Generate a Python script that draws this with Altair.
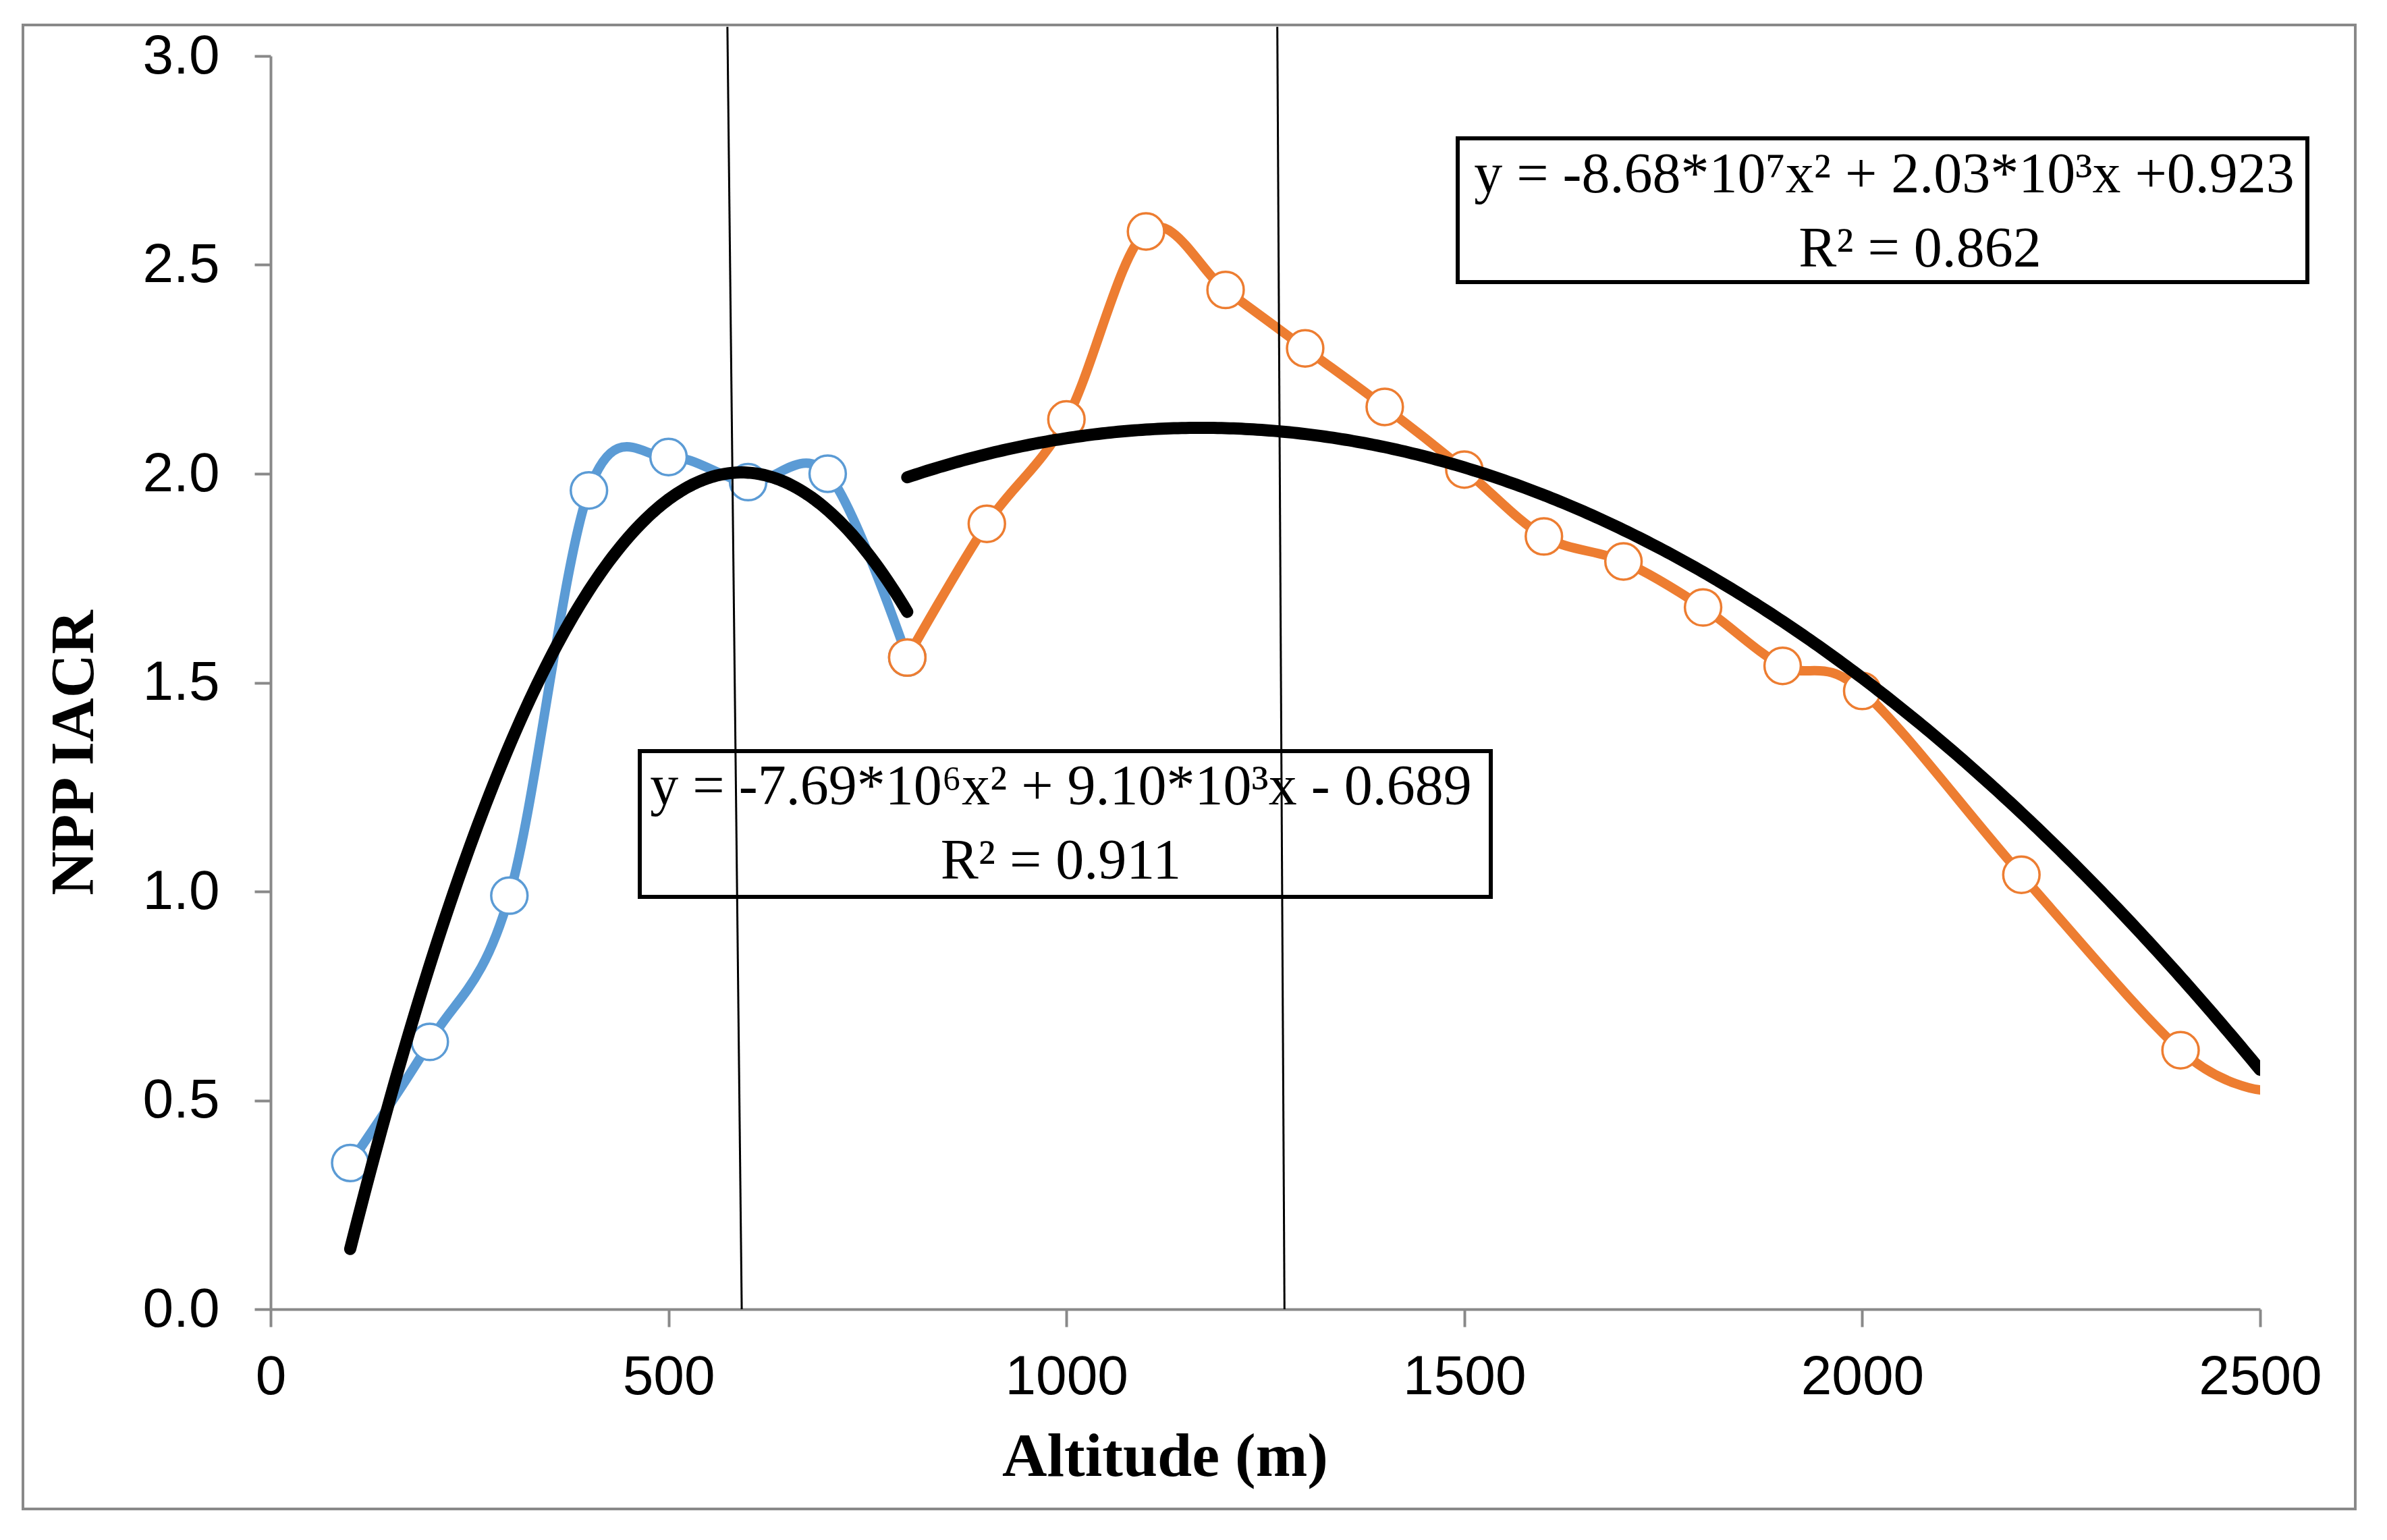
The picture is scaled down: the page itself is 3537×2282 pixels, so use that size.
import altair as alt
import pandas as pd

# ---------------- data ----------------
blue_x = [100, 200, 300, 400, 500, 600, 700, 800]
blue_y = [0.35, 0.64, 0.99, 1.96, 2.04, 1.98, 2.00, 1.56]

orange_x = [800, 900, 1000, 1100, 1200, 1300, 1400, 1500, 1600, 1700,
            1800, 1900, 2000, 2200, 2400, 2500]
orange_y = [1.56, 1.88, 2.13, 2.58, 2.44, 2.30, 2.16, 2.01, 1.85, 1.79,
            1.68, 1.54, 1.48, 1.04, 0.62, 0.525]
orange_marker = [True] * 15 + [False]   # line reaches the axis end, no marker there

# quadratic trend lines, coefficients as printed in the chart
fit_a = [-7.69e-6, -8.68e-7]
fit_b = [9.10e-3, 2.03e-3]
fit_c = [-0.689, 0.923]
fit_from = [100, 800]
fit_to = [800, 2500]

eq_text = ["y = -8.68*10\u2077x\u00b2 + 2.03*10\u00b3x +0.923", "R\u00b2 = 0.862",
           "y = -7.69*10\u2076x\u00b2 + 9.10*10\u00b3x - 0.689", "R\u00b2 = 0.911"]

divider_x_top = [574, 1265]
divider_x_bottom = [592, 1274]
divider_y_top = [3.07, 3.07]
divider_y_bottom = [0.0, 0.0]

x_ticks = [0, 500, 1000, 1500, 2000, 2500]
y_ticks = [0.0, 0.5, 1.0, 1.5, 2.0, 2.5, 3.0]

# ---------------- styles ----------------
BLUE = "#5B9BD5"
ORANGE = "#ED7D31"
GRAY = "#898989"
W, H = 2948, 1857

xs = alt.Scale(domain=[0, 2500], nice=False, zero=False)
ys = alt.Scale(domain=[0, 3], nice=False)

x_axis = alt.Axis(values=x_ticks, format="d", title="Altitude (m)", grid=False,
                  domainColor=GRAY, domainWidth=4, tickColor=GRAY, tickWidth=4,
                  tickSize=26, labelFont="Liberation Sans", labelFontSize=82,
                  labelColor="black", labelPadding=34, labelLimit=500,
                  labelFlush=False, labelOverlap=False,
                  titleFont="Liberation Serif", titleFontSize=92,
                  titleFontWeight="bold", titleColor="black",
                  titleX=1325, titleY=246, titleAlign="center",
                  titleBaseline="alphabetic")
y_axis = alt.Axis(values=y_ticks, format=".1f", title="NPP IACR", grid=False,
                  domainColor=GRAY, domainWidth=4, tickColor=GRAY, tickWidth=4,
                  tickSize=24, labelFont="Liberation Sans", labelFontSize=82,
                  labelColor="black", labelPadding=52, labelLimit=500,
                  labelFlush=False, labelOverlap=False,
                  titleFont="Liberation Serif", titleFontSize=90,
                  titleFontWeight="bold", titleColor="black", titleAngle=270,
                  titleX=-264, titleY=1032, titleAlign="center",
                  titleBaseline="alphabetic")


def X(field):
    return alt.X(field, scale=xs, axis=x_axis)


def Y(field):
    return alt.Y(field, scale=ys, axis=y_axis)


blue_df = pd.DataFrame({"x": blue_x, "y": blue_y})
orange_df = pd.DataFrame({"x": orange_x, "y": orange_y, "m": orange_marker})

blue_line = alt.Chart(blue_df).mark_line(
    color=BLUE, strokeWidth=14, interpolate="cardinal", strokeCap="round", clip=True
).encode(x=X("x:Q"), y=Y("y:Q"))

blue_pts = alt.Chart(blue_df).mark_point(
    shape="circle", filled=True, fill="white", stroke=BLUE, strokeWidth=3.5,
    size=2900, opacity=1
).encode(x=X("x:Q"), y=Y("y:Q"))

orange_line = alt.Chart(orange_df).mark_line(
    color=ORANGE, strokeWidth=14, interpolate="cardinal", strokeCap="round", clip=True
).encode(x=X("x:Q"), y=Y("y:Q"))

orange_pts = alt.Chart(orange_df).transform_filter("datum.m").mark_point(
    shape="circle", filled=True, fill="white", stroke=ORANGE, strokeWidth=3.5,
    size=2900, opacity=1
).encode(x=X("x:Q"), y=Y("y:Q"))

trend_layers = []
for i in range(len(fit_a)):
    step = 5
    t = alt.Chart(alt.sequence(fit_from[i], fit_to[i] + step, step, as_="x")).transform_calculate(
        y=f"{fit_a[i]}*datum.x*datum.x + {fit_b[i]}*datum.x + {fit_c[i]}"
    ).mark_line(color="black", strokeWidth=18, strokeCap="round", clip=True).encode(
        x=X("x:Q"), y=Y("y:Q")
    )
    trend_layers.append(t)

one = pd.DataFrame({"k": [0]})


def box(x1, x2, y1, y2):
    return alt.Chart(one).mark_rect(fill="white", stroke="black", strokeWidth=6).encode(
        x=alt.value(x1), x2=alt.value(x2), y=alt.value(y1), y2=alt.value(y2))


def label(txt, x, y, size):
    return alt.Chart(pd.DataFrame({"t": [txt]})).mark_text(
        font="Liberation Serif", fontSize=size, color="black", align="center",
        baseline="alphabetic"
    ).encode(x=alt.value(x), y=alt.value(y), text="t:N")


annotations = [
    box(1759, 3018, 122, 335),
    label(eq_text[0], 2391, 202, 84),
    label(eq_text[1], 2444, 312, 84),
    box(547, 1808, 1030, 1246),
    label(eq_text[2], 1171, 1109, 84),
    label(eq_text[3], 1171, 1219, 84),
]

div_df = pd.DataFrame({"x": divider_x_top, "xb": divider_x_bottom,
                       "y": divider_y_top, "yb": divider_y_bottom})
dividers = alt.Chart(div_df).mark_rule(color="black", strokeWidth=3, clip=False).encode(
    x=X("x:Q"), x2="xb:Q", y=Y("y:Q"), y2="yb:Q")

border = alt.Chart(one).mark_rect(fillOpacity=0, stroke=GRAY, strokeWidth=4).encode(
    x=alt.value(-367), x2=alt.value(3089), y=alt.value(-46), y2=alt.value(2153))

chart = alt.layer(
    blue_line, blue_pts, orange_line, orange_pts, *trend_layers, *annotations,
    dividers, border
).properties(
    width=W, height=H,
    padding={"left": 393, "top": 75, "right": 150, "bottom": 330},
    autosize=alt.AutoSizeParams(type="none"),
    background="white",
).configure_view(strokeWidth=0)

chart.save("out.html", embed_options={"renderer": "svg", "actions": False})
